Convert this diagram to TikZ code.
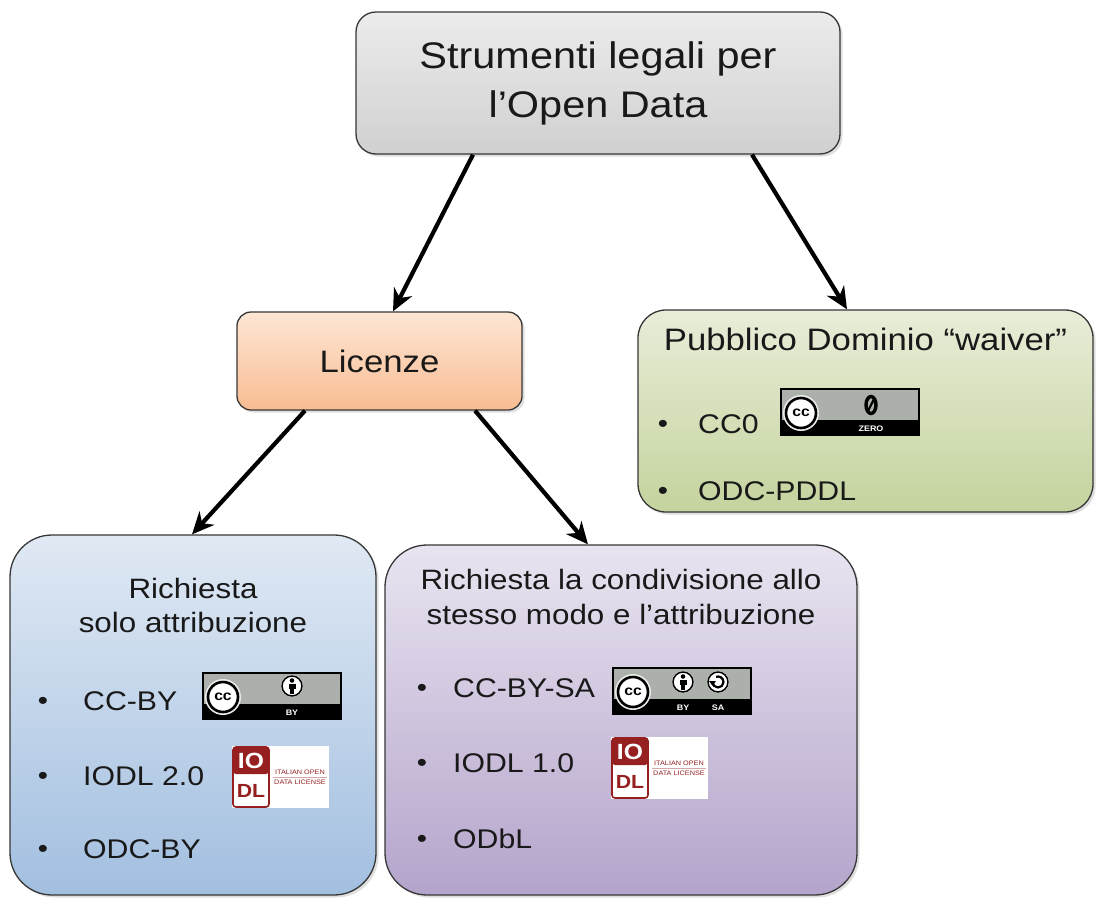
\documentclass[tikz,border=0pt]{standalone}
\usepackage{fontspec}
\setmainfont{Liberation Sans}[FakeStretch=1.12]
\usepackage{tikz}
\usetikzlibrary{arrows.meta,shadows}

\definecolor{inkgray}{RGB}{25,25,25}
\definecolor{edgegray}{RGB}{55,55,55}
\definecolor{topfill1}{RGB}{236,236,236}
\definecolor{topfill2}{RGB}{208,208,208}
\definecolor{licfill1}{RGB}{253,230,212}
\definecolor{licfill2}{RGB}{248,188,146}
\definecolor{pdfill1}{RGB}{232,237,216}
\definecolor{pdfill2}{RGB}{196,211,158}
\definecolor{byfill1}{RGB}{224,233,244}
\definecolor{byfill2}{RGB}{162,191,224}
\definecolor{safill1}{RGB}{233,228,240}
\definecolor{safill2}{RGB}{180,164,203}
\definecolor{ccgray}{RGB}{171,177,170}
\definecolor{iodlred}{RGB}{150,32,32}

\tikzset{
  ccbase/.pic={
    \fill [black] (0,0) rectangle (140,48);
    \fill [ccgray] (2,2) rectangle (138,32);
    \fill [white!75!ccgray] (21,25) circle (18);
    \node [circle, fill=white, draw=black, line width=2.6pt, minimum size=30pt, inner sep=0pt,
           font=\bfseries\fontsize{14}{14}\selectfont] at (21,25) {cc};
  },
  byicon/.pic={
    \fill [white] (0,0) circle (11);
    \draw [black, line width=1.5pt] (0,0) circle (10);
    \fill [black] (0,-5.5) circle (2.3);
    \fill [black] (-3.5,-2.4) rectangle (3.5,3.4);
    \fill [black] (-2,3.4) rectangle (2,8);
  },
  saicon/.pic={
    \fill [white] (0,0) circle (11);
    \draw [black, line width=1.5pt] (0,0) circle (10);
    \draw [black, line width=2.2pt] (-5.5,0) arc (180:-110:5.5);
    \fill [black] (-9,-1) -- (-2,-1) -- (-5.5,3.8) -- cycle;
  },
  zeroicon/.pic={
    \draw [black, line width=3.4pt] (0,0) ellipse (5 and 8.5);
    \draw [black, line width=2.2pt] (-2.8,5.5) -- (2.8,-5.5);
  },
  iodl/.pic={
    \fill [white] (0,0) rectangle (97,62);
    \draw [iodlred, line width=1.6pt, rounded corners=3pt] (1,1) rectangle (37,61);
    \fill [iodlred, rounded corners=3pt] (1,1) rectangle (37,28);
    \node [inner sep=0pt, text=white, font=\bfseries\fontsize{22}{22}\selectfont] at (19,15) {IO};
    \node [inner sep=0pt, text=iodlred, font=\bfseries\fontsize{19}{19}\selectfont] at (19,45) {DL};
    \node [inner sep=0pt, text=iodlred, font=\fontsize{6.5}{7}\selectfont] at (68,26) {ITALIAN OPEN};
    \draw [iodlred!40, line width=0.4pt] (41,31) -- (95,31);
    \node [inner sep=0pt, text=iodlred, font=\fontsize{6.5}{7}\selectfont] at (68,36) {DATA LICENSE};
  },
}

\begin{document}
\begin{tikzpicture}[%
      x=1pt, y=-1pt,
      legalbox/.style={draw=edgegray, line width=1.3pt, inner sep=0pt,
        drop shadow={shadow xshift=2.5pt, shadow yshift=-2.5pt, opacity=0.25}},
      arrowlink/.style={-{Stealth[length=22pt, width=20pt, inset=7pt]}, line width=4.2pt},
      headline/.style={anchor=base, inner sep=0pt, text=inkgray, font=\fontsize{28}{35}\selectfont},
      entry/.style={anchor=base west, inner sep=0pt, text=inkgray, font=\fontsize{27}{32}\selectfont},
      bulletmark/.style={inner sep=0pt, text=inkgray, font=\fontsize{26}{26}\selectfont},
      cclabel/.style={inner sep=0pt, text=white, font=\bfseries\fontsize{8}{8}\selectfont},
      ]
      \path [use as bounding box, fill=white] (0,0) rectangle (1096,900);

      \node [legalbox, rounded corners=20pt, top color=topfill1, bottom color=topfill2,
             minimum width=484pt, minimum height=142pt, align=center, text=inkgray,
             font=\fontsize{37}{49}\selectfont] (strumenti) at (598,83) {Strumenti legali per\\l’Open Data};
      \node [legalbox, rounded corners=14pt, top color=licfill1, bottom color=licfill2,
             minimum width=285pt, minimum height=98pt, text=inkgray,
             font=\fontsize{31}{36}\selectfont] (licenze) at (379.5,361) {Licenze};
      \node [legalbox, rounded corners=28pt, top color=pdfill1, bottom color=pdfill2,
             minimum width=455pt, minimum height=202pt] (pubblico) at (865.5,411) {};
      \node [legalbox, rounded corners=42pt, top color=byfill1, bottom color=byfill2,
             minimum width=366pt, minimum height=360pt] (soloby) at (193,715) {};
      \node [legalbox, rounded corners=42pt, top color=safill1, bottom color=safill2,
             minimum width=472pt, minimum height=350pt] (condivisione) at (621,720) {};

      \draw [arrowlink] ([xshift=-125pt]strumenti.south) -- ([xshift=13.5pt]licenze.north);
      \draw [arrowlink] ([xshift=154pt]strumenti.south) -- ([xshift=-18.5pt]pubblico.north);
      \draw [arrowlink] ([xshift=-74.5pt]licenze.south) -- ([xshift=-1pt]soloby.north);
      \draw [arrowlink] ([xshift=95.5pt]licenze.south) -- ([xshift=-33pt]condivisione.north);

      \node [headline, font=\fontsize{31}{36}\selectfont] (pdtitle) at (865.5,350) {Pubblico Dominio “waiver”};
      \node [bulletmark] at (663,426) {•};
      \node [entry] (cczero) at (698,433) {CC0};
      \node [bulletmark] at (663,493) {•};
      \node [entry] (pddl) at (698,500) {ODC-PDDL};
      \pic at (780,388) {ccbase};
      \pic at (871,405) {zeroicon};
      \node [cclabel] at (871,429) {ZERO};

      \node [headline] (bytitle1) at (193,598) {Richiesta};
      \node [headline] (bytitle2) at (193,632) {solo attribuzione};
      \node [bulletmark] at (43,703) {•};
      \node [entry] (ccby) at (83,710) {CC-BY};
      \node [bulletmark] at (43,778) {•};
      \node [entry] (iodltwo) at (83,785) {IODL 2.0};
      \node [bulletmark] at (43,851) {•};
      \node [entry] (odcby) at (83,858) {ODC-BY};
      \pic at (202,672) {ccbase};
      \pic at (292,686) {byicon};
      \node [cclabel] at (292,713) {BY};
      \pic at (232,746) {iodl};

      \node [headline] (satitle1) at (621,589) {Richiesta la condivisione allo};
      \node [headline] (satitle2) at (621,624) {stesso modo e l’attribuzione};
      \node [bulletmark] at (422,690) {•};
      \node [entry] (ccbysa) at (453,697) {CC-BY-SA};
      \node [bulletmark] at (422,765) {•};
      \node [entry] (iodlone) at (453,772) {IODL 1.0};
      \node [bulletmark] at (422,841) {•};
      \node [entry] (odbl) at (453,848) {ODbL};
      \pic at (612,667) {ccbase};
      \pic at (683,682) {byicon};
      \pic at (718,682) {saicon};
      \node [cclabel] at (683,708) {BY};
      \node [cclabel] at (718,708) {SA};
      \pic at (611,737) {iodl};
      \end{tikzpicture}
\end{document}
